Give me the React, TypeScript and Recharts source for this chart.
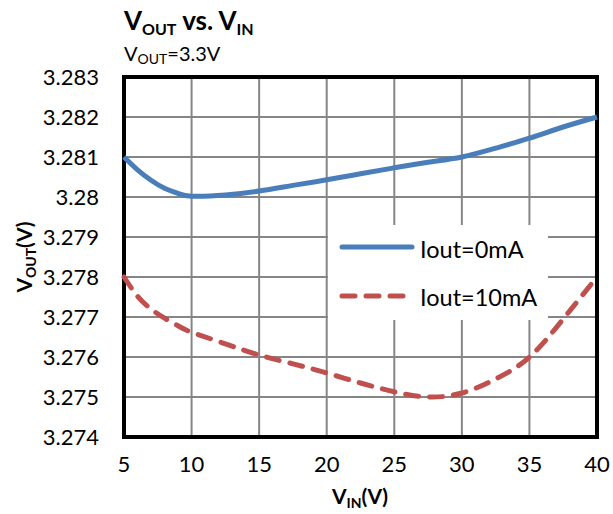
import { CartesianGrid, Line, LineChart, ReferenceArea, XAxis, YAxis } from "recharts";

// 読み取り値（V_IN ごとの V_OUT）
const vin = [5, 6, 7, 8, 9, 10, 12.5, 15, 17.5, 20, 22.5, 25, 27.5, 30, 32.5, 35, 37.5, 40];
const iout0 = [3.281, 3.28068, 3.28042, 3.28022, 3.28009, 3.28002, 3.28005, 3.28015, 3.28029, 3.28043, 3.28058, 3.28073, 3.28087, 3.281, 3.28122, 3.28147, 3.28175, 3.282];
const iout10 = [3.278, 3.27752, 3.2772, 3.27697, 3.27678, 3.27662, 3.27633, 3.27605, 3.27583, 3.2756, 3.27535, 3.27513, 3.275, 3.2751, 3.27545, 3.276, 3.27695, 3.278];

const xTicks = [5, 10, 15, 20, 25, 30, 35, 40];
const yTicks = [3.274, 3.275, 3.276, 3.277, 3.278, 3.279, 3.28, 3.281, 3.282, 3.283];

const seriesNames = ["Iout=0mA", "Iout=10mA"];

const data = vin.map((v, i) => ({ vin: v, a: iout0[i], b: iout10[i] }));

const FONT = "Lato, 'Open Sans', sans-serif";
const BLUE = "#4A7EBB";
const RED = "#C0504D";

// 凡例は白抜きの箱で、グリッドを隠す（Recharts の Legend は余白を取ってしまうので自前で重ねる）
function LegendBox() {
  return (
    <svg
      width={220}
      height={95}
      style={{ position: "absolute", left: 328, top: 225, display: "block" }}
    >
      <rect x={0} y={0} width={220} height={95} fill="#fff" />
      <line x1={14} y1={22} x2={84} y2={22} stroke={BLUE} strokeWidth={5} strokeLinecap="round" />
      <text x={92} y={33} fontSize={23.5} fontFamily={FONT} fill="#000">{seriesNames[0]}</text>
      <line x1={14} y1={71} x2={84} y2={71} stroke={RED} strokeWidth={5} strokeLinecap="round" strokeDasharray="13 11" />
      <text x={92} y={81} fontSize={23.5} fontFamily={FONT} fill="#000">{seriesNames[1]}</text>
    </svg>
  );
}

export default function App() {
  return (
    <div style={{ position: "absolute", left: 0, top: 0, width: 613, height: 514, background: "#fff" }}>
      <LineChart width={613} height={514} data={data} margin={{ top: 77, right: 16, bottom: 0, left: 0 }}>
        <CartesianGrid stroke="#868686" strokeWidth={2} />
        <XAxis
          dataKey="vin"
          type="number"
          domain={[5, 40]}
          ticks={xTicks}
          axisLine={false}
          tickLine={false}
          tickSize={0}
          tickMargin={19}
          height={77}
          tick={{ fontSize: 22, fontFamily: FONT, fill: "#000" }}
        />
        <YAxis
          type="number"
          domain={[3.274, 3.283]}
          ticks={yTicks}
          axisLine={false}
          tickLine={false}
          tickSize={0}
          tickMargin={25}
          width={124}
          tick={{ fontSize: 22, fontFamily: FONT, fill: "#000" }}
        />
        <ReferenceArea x1={5} x2={40} y1={3.274} y2={3.283} fill="none" stroke="#000" strokeWidth={4} />
        <Line
          type="natural"
          dataKey="a"
          name={seriesNames[0]}
          stroke={BLUE}
          strokeWidth={5}
          dot={false}
          isAnimationActive={false}
        />
        <Line
          type="natural"
          dataKey="b"
          name={seriesNames[1]}
          stroke={RED}
          strokeWidth={5}
          strokeDasharray="13 11"
          strokeLinecap="round"
          dot={false}
          isAnimationActive={false}
        />
      </LineChart>
      <LegendBox />
      <svg
        width={613}
        height={514}
        style={{ position: "absolute", left: 0, top: 0, pointerEvents: "none" }}
        fontFamily={FONT}
      >
        <text x={124} y={30} fontSize={26} fontWeight="bold" fill="#000">
          V<tspan fontSize={16} dy={5}>OUT</tspan>
          <tspan fontSize={26} dy={-5}> vs. V</tspan>
          <tspan fontSize={16} dy={5}>IN</tspan>
        </text>
        <text x={124} y={61} fontSize={20} fill="#000">
          V<tspan fontSize={14} dy={3}>OUT</tspan>
          <tspan fontSize={20} dy={-3}>=3.3V</tspan>
        </text>
        <text transform="translate(32,257) rotate(-90)" textAnchor="middle" fontSize={21} fontWeight="bold" fill="#000">
          V<tspan fontSize={14} dy={4}>OUT</tspan>
          <tspan fontSize={21} dy={-4}>(V)</tspan>
        </text>
        <text x={360} y={504} textAnchor="middle" fontSize={21} fontWeight="bold" fill="#000">
          V<tspan fontSize={14} dy={4}>IN</tspan>
          <tspan fontSize={21} dy={-4}>(V)</tspan>
        </text>
      </svg>
    </div>
  );
}
